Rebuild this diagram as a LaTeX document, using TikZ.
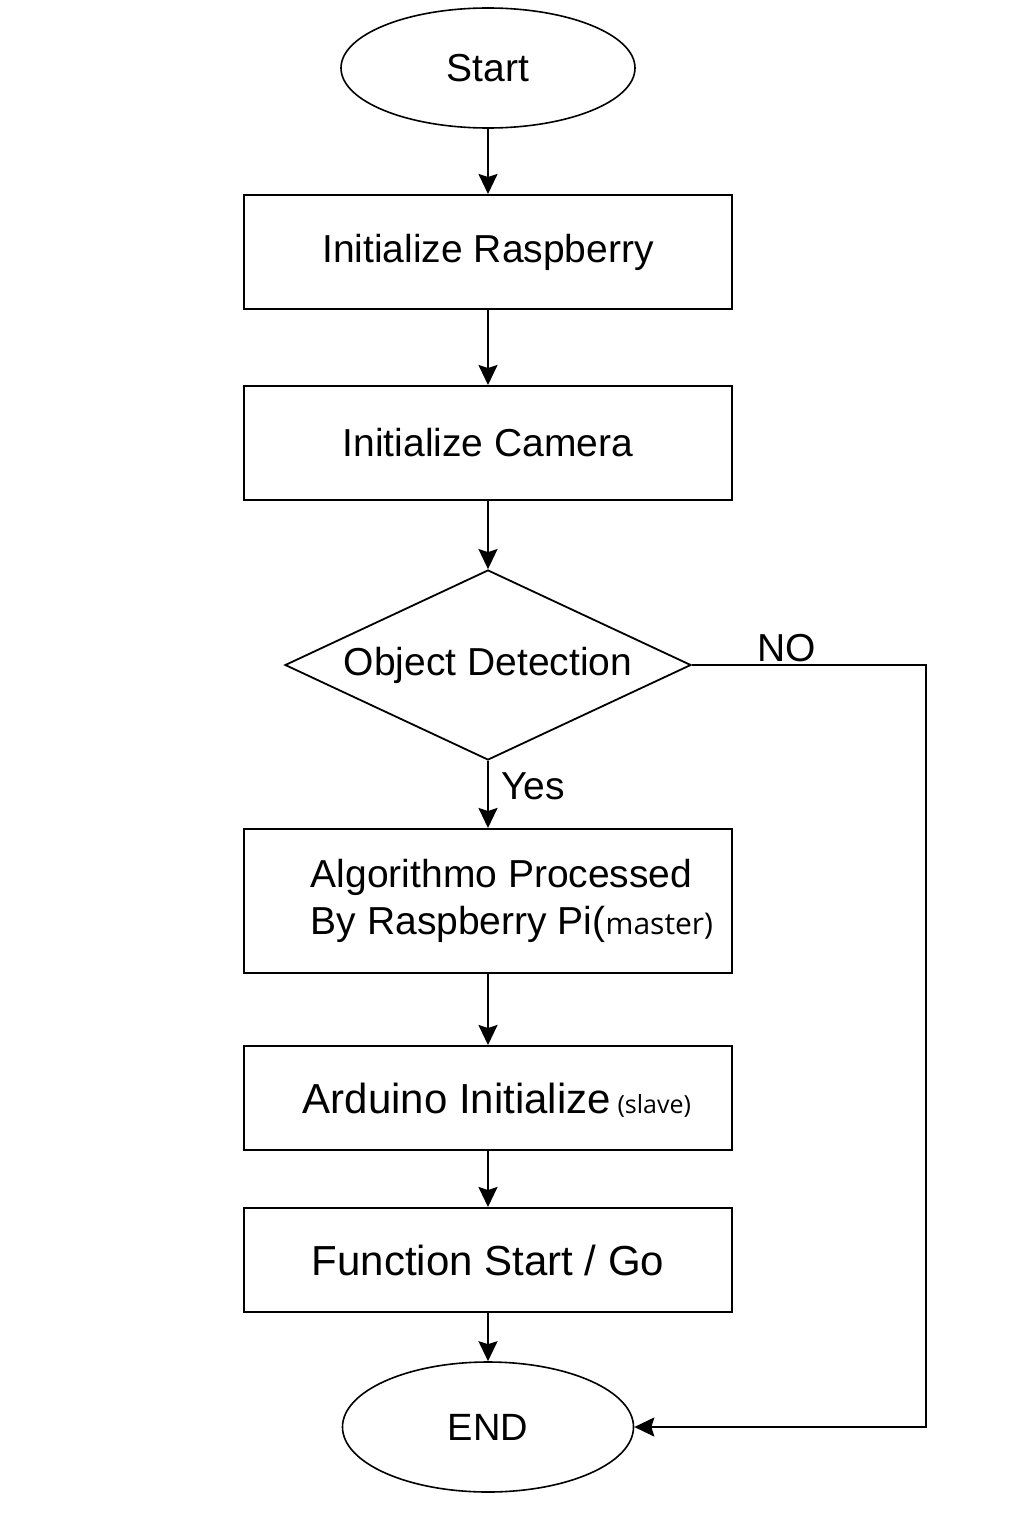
\documentclass[tikz,border=0pt]{standalone}
\usepackage{fontspec}
\setmainfont{Liberation Sans}
\newfontfamily\notefont{Open Sans}
\usepackage{tikz}
\usetikzlibrary{
    positioning,
    arrows.meta,
    shapes.geometric
}

\begin{document}
\begin{tikzpicture}[x=1pt, y=-1pt, >={Stealth[length=20pt, width=19pt, inset=3pt]},
    every node/.style={font=\fontsize{39}{47}\selectfont},
    stepbox/.style={draw, line width=2pt, rectangle, minimum width=488pt, inner sep=0pt},
    terminal/.style={draw, line width=1.6pt, ellipse, inner sep=0pt},
    decision/.style={draw, line width=1.8pt, diamond, aspect=2.1, minimum width=406pt, minimum height=190pt, inner sep=0pt},
    flow/.style={->, line width=2pt}]
            \useasboundingbox (0,0) rectangle (1024,1536);

            \node[terminal, minimum width=294pt, minimum height=120pt] (start) at (488,68) {Start};
            \node[stepbox, minimum height=114pt] (ras) at (488,252) {Initialize Raspberry};
            \node[stepbox, minimum height=114pt] (cam) at (488,443) {Initialize Camera};
            \node[decision] (det) at (488,665) {Object Detection};
            \node[stepbox, minimum height=144pt] (alg) at (488,901) {};
            \node[align=left, inner sep=0pt] (algtext) at ([xshift=24pt]alg.center)
                {Algorithmo Processed\\By Raspberry Pi({\notefont\fontsize{30}{36}\selectfont master)}};
            \node[stepbox, minimum height=104pt] (ard) at (488,1098) {};
            \node[inner sep=0pt, font=\fontsize{42}{50}\selectfont] (ardtext) at ([xshift=9pt, yshift=-2pt]ard.center)
                {Arduino Initialize{\notefont\fontsize{25}{30}\selectfont{} (slave)}};
            \node[stepbox, minimum height=104pt, font=\fontsize{42}{50}\selectfont] (fun) at (488,1260) {Function Start / Go};
            \node[terminal, minimum width=291pt, minimum height=130pt, font=\fontsize{38}{46}\selectfont] (fin) at (488,1427) {END};
            \coordinate (noturn) at (926,665);

            \draw[flow] (start) -- (ras);
            \draw[flow] (ras) -- (cam);
            \draw[flow] (cam) -- (det);
            \draw[flow] (det) -- (alg);
            \draw[flow] (alg) -- (ard);
            \draw[flow] (ard) -- (fun);
            \draw[flow] (fun) -- (fin);
            \draw[flow] (det.east) -- (noturn) |- (fin.east);

            \node (yes) at (533,786) {Yes}; \node (no) at (787,648) {NO};
        \end{tikzpicture}
\end{document}
